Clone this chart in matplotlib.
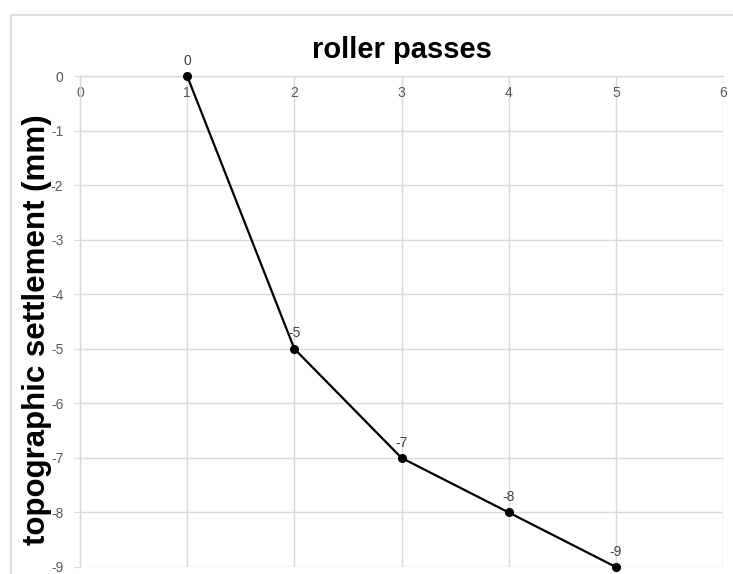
import matplotlib
matplotlib.use('Agg')
import matplotlib.pyplot as plt
from matplotlib.patches import Rectangle

# Data
passes = [1, 2, 3, 4, 5]
settlement = [0, -5, -7, -8, -9]
x_ticks = [0, 1, 2, 3, 4, 5, 6]
y_ticks = [0, -1, -2, -3, -4, -5, -6, -7, -8, -9]

plt.rcParams['font.family'] = ['Liberation Sans', 'DejaVu Sans']
plt.rcParams['axes.unicode_minus'] = False

fig = plt.figure(figsize=(7.33, 5.74), dpi=100)
fig.patch.set_facecolor('white')

# light chart border like the Excel chart area
fig.patches.append(Rectangle((11 / 733, -0.05), 1.0, (574 - 15) / 574 + 0.05,
                             transform=fig.transFigure, fill=False,
                             edgecolor='#d9d9d9', linewidth=1.2))

ax = fig.add_axes([80 / 733, 7 / 574, 643 / 733, 491 / 574])

grid_color = '#d9d9d9'
ax.set_xlim(0, 6)
ax.set_ylim(-9, 0)
ax.set_xticks(x_ticks)
ax.set_yticks(y_ticks)
ax.grid(True, color=grid_color, linewidth=1)
ax.set_axisbelow(True)

# x axis sits on y = 0 (top of the plot)
ax.spines['bottom'].set_position(('data', 0))
for s in ['bottom', 'left']:
    ax.spines[s].set_color(grid_color)
    ax.spines[s].set_linewidth(1)
ax.spines['top'].set_visible(False)
ax.spines['right'].set_visible(False)

ax.tick_params(axis='x', colors='#595959', labelsize=10, length=0, pad=7)
ax.tick_params(axis='y', colors='#595959', labelsize=10, length=4, pad=8,
               color=grid_color)

ax.plot(passes, settlement, color='black', linewidth=1.6, marker='o',
        markersize=5.5, clip_on=False, zorder=3)

for x, y in zip(passes, settlement):
    ax.annotate(str(y), (x, y), textcoords='offset points', xytext=(0, 6),
                ha='center', va='bottom', color='#404040', fontsize=10)

fig.text((80 + 723) / 2 / 733, 1 - 50 / 574, 'roller passes', ha='center',
         va='center', fontsize=21, fontweight='bold')
fig.text(37 / 733, 1 - 330 / 574, 'topographic settlement (mm)', ha='center',
         va='center', rotation=90, fontsize=22.5, fontweight='bold')

fig.savefig('out.png', dpi=100)
